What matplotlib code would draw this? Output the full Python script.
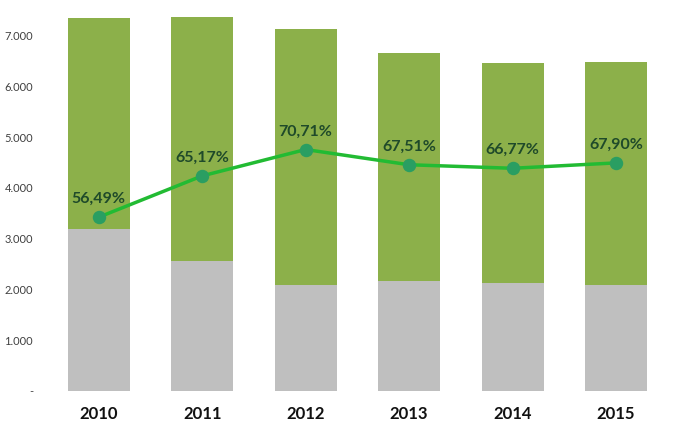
import matplotlib.pyplot as plt
import numpy as np

years = ['2010', '2011', '2012', '2013', '2014', '2015']
gray_part = [3190, 2560, 2085, 2165, 2130, 2090]
green_part = [4150, 4800, 5040, 4490, 4330, 4390]
pct = [56.49, 65.17, 70.71, 67.51, 66.77, 67.90]
pct_labels = ['56,49%', '65,17%', '70,71%', '67,51%', '66,77%', '67,90%']
yticks = [0, 1000, 2000, 3000, 4000, 5000, 6000, 7000]
ytick_labels = ['-', '1.000', '2.000', '3.000', '4.000', '5.000', '6.000', '7.000']

plt.rcParams['font.family'] = ['Lato', 'DejaVu Sans']

fig = plt.figure(figsize=(6.8, 4.29), dpi=100)
ax = fig.add_axes([0.069, 0.0886, 0.913, 0.888])
x = np.arange(len(years))

ax.bar(x, gray_part, width=0.6, color='#bfbfbf')
ax.bar(x, green_part, width=0.6, bottom=gray_part, color='#8cb04a')

ax.set_xlim(-0.5, 5.5)
ax.set_ylim(0, 7500)
ax.set_yticks(yticks)
ax.set_yticklabels(ytick_labels, fontsize=8, color='#404040')
ax.set_xticks(x)
ax.set_xticklabels(years, fontsize=12, fontweight='bold', color='#111111')
ax.tick_params(axis='both', length=0)
ax.tick_params(axis='x', pad=11)
ax.tick_params(axis='y', pad=10)
for s in ax.spines.values():
    s.set_visible(False)

# percentage line on a hidden secondary axis
ax2 = ax.twinx()
ax2.set_ylim(20, 100)
ax2.plot(x, pct, color='#22bb33', linewidth=2.5, zorder=3)
ax2.scatter(x, pct, s=75, color='#2a9e62', zorder=4)
for xi, p, lab in zip(x, pct, pct_labels):
    ax2.annotate(lab, (xi, p), xytext=(0, 8), textcoords='offset points',
                 ha='center', va='bottom', fontsize=11.5, fontweight='bold', color='#1f4a2a')
ax2.set_yticks([])
for s in ax2.spines.values():
    s.set_visible(False)

fig.savefig('out.png', dpi=100)
